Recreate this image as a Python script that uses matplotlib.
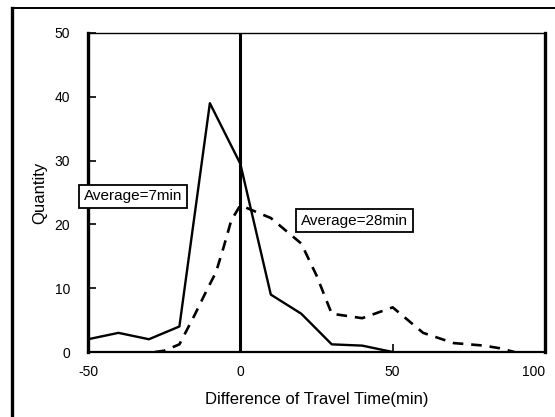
import matplotlib
matplotlib.use("Agg")
import matplotlib.pyplot as plt
from matplotlib.lines import Line2D

plt.rcParams['font.family'] = ['Liberation Sans', 'DejaVu Sans']

# Solid series (Average=7min)
solid_x = [-50, -40, -30, -20, -10, 0, 10, 20, 30, 40, 50]
solid_y = [2, 3, 2, 4, 39, 29.5, 9, 6, 1.2, 1, 0]

# Dashed series (Average=28min)
dash_x = [-28, -25, -20, -15, -11, -8, -5.5, -3, 0, 10, 20, 25, 30, 40, 50, 60, 70, 80, 85, 90]
dash_y = [0, 0.2, 1.2, 5.8, 9.7, 12.5, 16.4, 20.6, 23, 21, 17, 12, 6, 5.3, 7, 3, 1.4, 1, 0.6, 0]

xticks = [-50, 0, 50, 100]
yticks = [0, 10, 20, 30, 40, 50]

fig = plt.figure(figsize=(5.55, 4.17), dpi=100)
ax = fig.add_axes([88/555, (417-352)/417, (545-88)/555, (352-33)/417])

ax.plot(solid_x, solid_y, color='black', lw=1.7)
ax.plot(dash_x, dash_y, color='black', lw=1.9, linestyle=(0, (4, 3)))
ax.axvline(0, color='black', lw=2.2)

ax.set_xlim(-50, 100)
ax.set_ylim(0, 50)
ax.set_xticks(xticks)
ax.set_yticks(yticks)
ax.set_xticklabels([str(v) for v in xticks], fontsize=10)
ax.set_yticklabels([str(v) for v in yticks], fontsize=10)
ax.tick_params(direction='in', length=6, width=1.2, pad=13)
ax.tick_params(axis='x', pad=9)
ax.get_xticklabels()[-1].set_horizontalalignment('right')

ax.spines['left'].set_linewidth(2.4)
ax.spines['right'].set_linewidth(2.4)
ax.spines['bottom'].set_linewidth(1.6)
ax.spines['top'].set_linewidth(1.0)

ax.set_xlabel('Difference of Travel Time(min)', fontsize=12, labelpad=10)
ax.set_ylabel('Quantity', fontsize=12, labelpad=5)

bbox = dict(boxstyle='square,pad=0.3', fc='white', ec='black', lw=1.3)
ax.text(-51.3, 24.4, 'Average=7min', fontsize=11, ha='left', va='center', bbox=bbox, clip_on=False)
ax.text(19.9, 20.6, 'Average=28min', fontsize=11, ha='left', va='center', bbox=bbox)

# outer frame
fig.add_artist(Line2D([12/555, 12/555], [0, 1 - 8/417], transform=fig.transFigure, color='black', lw=2.4))
fig.add_artist(Line2D([12/555, 1], [1 - 8/417, 1 - 8/417], transform=fig.transFigure, color='black', lw=1.4))

fig.savefig('out.png', dpi=100)
